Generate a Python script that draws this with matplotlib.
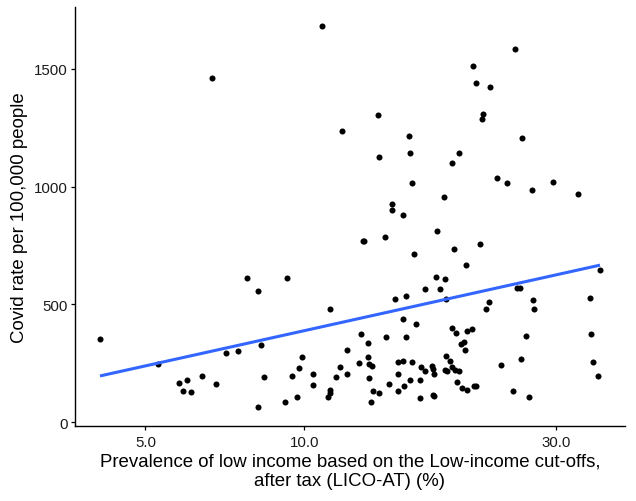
import numpy as np
import matplotlib
matplotlib.use("Agg")
import matplotlib.pyplot as plt
from matplotlib.ticker import FixedLocator, NullLocator

OUT_FILE = "out.png"

# Prevalence of low income (LICO-AT, %) per region
low_income = [
    10.79, 6.69, 11.77, 25.05, 20.84, 21.14, 22.44, 13.78, 21.83, 21.74,
    15.77, 25.83, 13.88, 15.86, 19.67, 19.05, 15.98, 23.16, 24.16, 27.06,
    29.65, 33.02, 18.37, 14.67, 14.67, 15.37,
    4.10, 7.79, 9.29, 8.18, 11.18, 8.28, 7.09, 7.49, 5.29, 5.80,
    5.99, 5.90, 6.10, 6.40, 6.79, 8.40, 8.18, 9.18, 9.69, 9.49,
    9.77, 9.89, 10.38, 10.38, 11.18, 11.18, 11.09, 11.48, 11.68, 12.06,
    12.06,
    12.90, 13.00, 14.19, 17.87, 16.17, 19.24, 21.56, 20.24, 17.76, 18.47,
    16.96, 18.05, 14.86, 15.57, 18.59, 25.30, 25.60, 22.06, 22.35, 27.14,
    27.26, 34.83, 36.33, 34.87, 35.17, 36.00, 26.33, 25.72, 23.54, 24.84,
    26.63, 15.37, 16.26, 12.79, 14.27, 15.57, 13.18, 19.05, 19.36, 20.30,
    20.78, 19.84, 20.04, 20.15, 12.67, 13.18, 13.26, 13.44, 13.27, 13.47,
    13.37, 13.88, 14.48, 15.06, 15.37, 15.06, 15.08, 15.48, 15.86, 15.98,
    16.67, 16.96, 16.55, 16.57, 17.49, 17.54, 17.64, 17.54, 17.60, 18.52,
    18.85, 19.05, 18.47, 18.67, 19.29, 19.67, 19.46, 19.89, 20.37, 20.99,
    21.14,
]

# Covid cases per 100,000 people, same order
covid_rate = [
    1681, 1461, 1236, 1584, 1511, 1441, 1424, 1303, 1308, 1288,
    1215, 1205, 1127, 1141, 1141, 1100, 1014, 1039, 1015, 988,
    1018, 971, 957, 926, 902, 879,
    354, 613, 613, 558, 481, 329, 295, 304, 246, 165,
    178, 134, 127, 196, 162, 190, 66, 87, 107, 198,
    230, 277, 206, 157, 137, 122, 107, 192, 235, 308,
    205,
    770, 770, 785, 812, 713, 736, 757, 668, 615, 610,
    566, 566, 522, 535, 524, 572, 572, 482, 512, 518,
    482, 526, 647, 373, 256, 195, 366, 269, 244, 134,
    108, 437, 417, 373, 362, 362, 337, 400, 380, 387,
    396, 334, 339, 305, 253, 277, 247, 240, 186, 133,
    87, 125, 164, 256, 261, 205, 134, 152, 181, 254,
    236, 216, 178, 104, 240, 226, 206, 114, 110, 283,
    260, 233, 222, 216, 223, 216, 169, 144, 138, 154,
    154,
]

x_ticks = [5.0, 10.0, 30.0]
x_tick_labels = ["5.0", "10.0", "30.0"]
y_ticks = [0, 500, 1000, 1500]

X_LABEL = "Prevalence of low income based on the Low-income cut-offs,\nafter tax (LICO-AT) (%)"
Y_LABEL = "Covid rate per 100,000 people"


# ── Linear fit on log10(x), like geom_smooth(method="lm") ────

def fit_line(x, y):
    lx = np.log10(x)
    slope, icpt = np.polyfit(lx, y, 1)
    gx = np.linspace(lx.min(), lx.max(), 80)
    return 10 ** gx, slope * gx + icpt


def main():
    x = np.array(low_income)
    y = np.array(covid_rate)

    fig = plt.figure(figsize=(6.36, 5.02), dpi=100)
    ax = fig.add_axes([75 / 636, 1 - 426.7 / 502, 550 / 636, 418.4 / 502])

    ax.scatter(x, y, s=19, color="black", linewidths=0, zorder=3)

    lx, ly = fit_line(x, y)
    ax.plot(lx, ly, color="#3366FF", lw=2.2, zorder=4, solid_capstyle="butt")

    # ggplot-like 5% expansion on both scales
    lo, hi = np.log10(x.min()), np.log10(x.max())
    pad = 0.05 * (hi - lo)
    ax.set_xscale("log")
    ax.set_xlim(10 ** (lo - pad), 10 ** (hi + pad))
    ypad = 0.05 * (y.max() - y.min())
    ax.set_ylim(y.min() - ypad, y.max() + ypad)

    ax.xaxis.set_major_locator(FixedLocator(x_ticks))
    ax.xaxis.set_minor_locator(NullLocator())
    ax.set_xticklabels(x_tick_labels)
    ax.set_yticks(y_ticks)

    for side in ("top", "right"):
        ax.spines[side].set_visible(False)
    for side in ("left", "bottom"):
        ax.spines[side].set_linewidth(1.0)
        ax.spines[side].set_color("black")
    ax.tick_params(length=3.2, width=0.9, color="black", pad=2.2,
                   labelsize=10.8, labelcolor="#1a1a1a")
    ax.tick_params(axis="x", pad=3.2)

    ax.set_xlabel(X_LABEL, fontsize=13.4, color="black", labelpad=3, linespacing=1.15)
    ax.set_ylabel(Y_LABEL, fontsize=13.4, color="black", labelpad=4)

    fig.savefig(OUT_FILE, dpi=100)
    plt.close(fig)


if __name__ == "__main__":
    plt.rcParams["font.family"] = ["Liberation Sans", "DejaVu Sans"]
    main()
